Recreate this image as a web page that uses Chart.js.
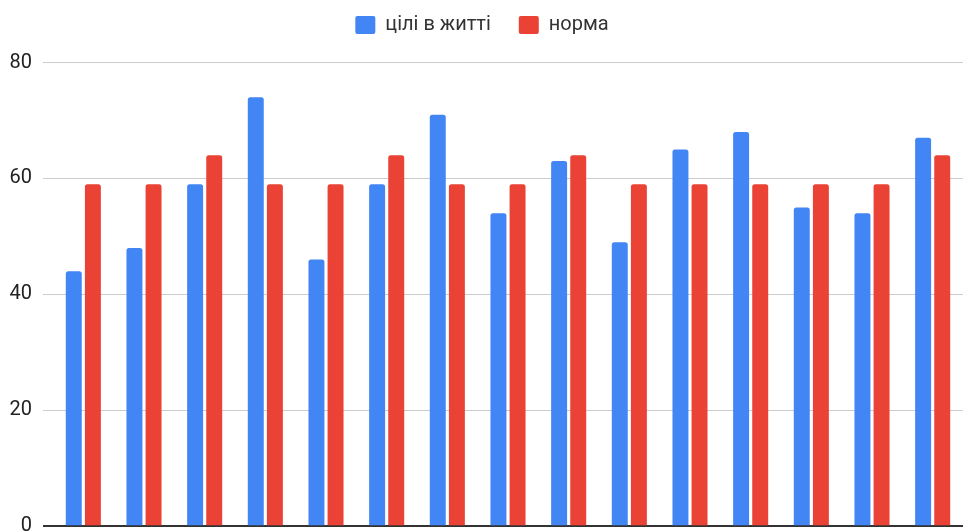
<!DOCTYPE html>
<html>
<head>
<meta charset="utf-8">
<script src="https://cdn.jsdelivr.net/npm/chart.js@4.4.1/dist/chart.umd.min.js"></script>
<style>
  html, body { margin: 0; padding: 0; background: #ffffff; overflow: hidden; }
  #wrap { width: 963px; height: 560px; }
</style>
</head>
<body>
<div id="wrap"><canvas id="chart" width="963" height="560"></canvas></div>
<script>
// Respondents (one group of bars each)
const categories = ['1', '2', '3', '4', '5', '6', '7', '8', '9', '10', '11', '12', '13', '14', '15'];
// Score on the "life goals" scale
const lifeGoals = [44, 48, 59, 74, 46, 59, 71, 54, 63, 49, 65, 68, 55, 54, 67];
// Reference norm for each respondent
const norm = [59, 59, 64, 59, 59, 64, 59, 59, 64, 59, 59, 59, 59, 59, 64];
// Value-axis ticks
const yTicks = [0, 20, 40, 60, 80];

const FONT = 'Roboto, "Liberation Sans", Arial, sans-serif';

// Extra space between the legend row and the plot area
const legendGap = {
  id: 'legendGap',
  afterInit(chart) {
    const legend = chart.legend;
    if (!legend) return;
    const fit = legend.fit.bind(legend);
    legend.fit = function () {
      fit();
      this.height += 17.5;
    };
  }
};

new Chart(document.getElementById('chart'), {
  type: 'bar',
  data: {
    labels: categories,
    datasets: [
      { label: 'цілі в житті', data: lifeGoals, backgroundColor: '#4285f4' },
      { label: 'норма', data: norm, backgroundColor: '#ea4335' }
    ]
  },
  plugins: [legendGap],
  options: {
    responsive: false,
    animation: false,
    layout: { padding: { top: -13, right: -1, bottom: 33.7, left: 0 } },
    datasets: {
      bar: {
        categoryPercentage: 0.63,
        barPercentage: 0.835,
        borderRadius: 2.5,
        borderSkipped: 'start'
      }
    },
    plugins: {
      tooltip: { enabled: false },
      legend: {
        position: 'top',
        align: 'center',
        labels: {
          font: { family: FONT, size: 20 },
          color: '#333333',
          boxWidth: 20,
          boxHeight: 18,
          padding: 28,
          useBorderRadius: true,
          borderRadius: 2
        }
      }
    },
    scales: {
      x: { display: false },
      y: {
        min: yTicks[0],
        max: yTicks[yTicks.length - 1],
        afterBuildTicks: (scale) => { scale.ticks = yTicks.map(v => ({ value: v })); },
        afterFit: (scale) => { scale.width = 53; },
        border: { display: false },
        grid: {
          drawTicks: true,
          tickLength: 10,
          color: (ctx) => ctx.tick && ctx.tick.value === 0 ? '#333333' : '#cccccc',
          lineWidth: (ctx) => ctx.tick && ctx.tick.value === 0 ? 2 : 1
        },
        ticks: {
          padding: 11,
          color: '#222222',
          font: { family: FONT, size: 20 }
        }
      }
    }
  }
});
</script>
</body>
</html>
